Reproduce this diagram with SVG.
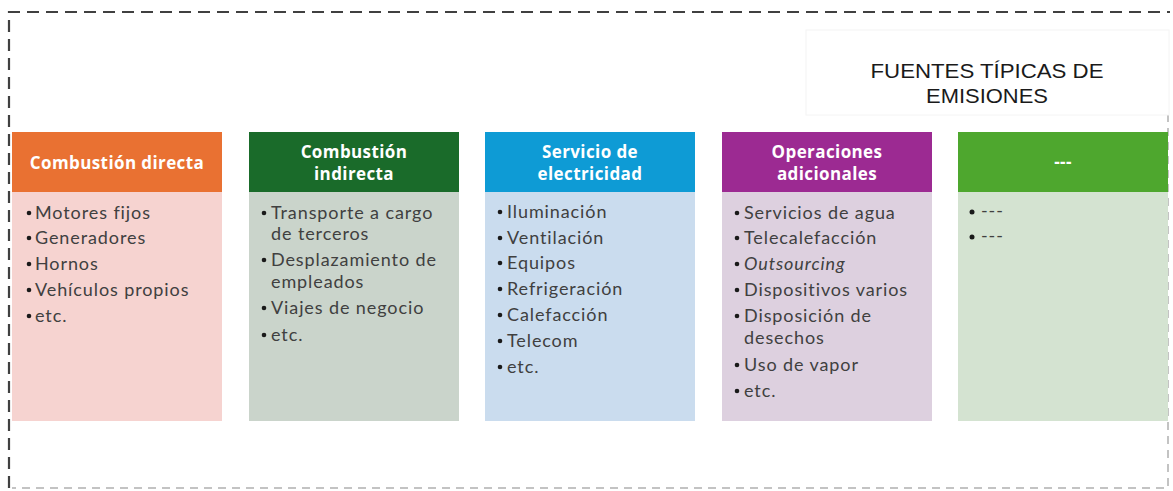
<svg xmlns="http://www.w3.org/2000/svg" width="1173" height="491" viewBox="0 0 1173 491">
<style>
.frame{fill:none;stroke:#404040;stroke-width:2.2;stroke-dasharray:12 7}
.frame2{fill:none;stroke:#b0b0b0;stroke-width:1.5;stroke-dasharray:8 6}
.hd{font-family:"Open Sans","Liberation Sans",sans-serif;font-weight:700;font-size:17px;letter-spacing:0.4px;fill:#ffffff;text-anchor:middle}
.it{font-family:Lato,"Open Sans",sans-serif;font-size:18px;letter-spacing:0.9px;fill:#404040}
.bul{fill:#1a1a1a}
.title{font-family:"Liberation Sans",Arial,sans-serif;font-size:21px;fill:#1a1a1a;text-anchor:middle}
</style>
<rect width="1173" height="491" fill="#ffffff"/>
<g id="frame">
<path class="frame" d="M9,488 V12 H1170"/>
<path class="frame2" d="M1168,30 V488 H12"/>
</g>
<g id="title">
<rect x="806" y="30" width="363" height="85" fill="#ffffff" stroke="#f4f4f4" stroke-width="1"/>
<text class="title" x="987" y="78" textLength="233" lengthAdjust="spacingAndGlyphs">FUENTES TÍPICAS DE</text>
<text class="title" x="987" y="103" textLength="122" lengthAdjust="spacingAndGlyphs">EMISIONES</text>
</g>
<g id="node1">
<rect x="12" y="192" width="210" height="229" fill="#f6d3d0"/>
<rect x="12" y="132" width="210" height="60" fill="#e97132"/>
<text class="hd" x="117" y="169">Combustión directa</text>
<g class="bul"><circle cx="29" cy="213" r="2.3"/><circle cx="29" cy="238" r="2.3"/><circle cx="29" cy="264" r="2.3"/><circle cx="29" cy="290" r="2.3"/><circle cx="29" cy="316" r="2.3"/></g>
<text class="it" x="35" y="219">Motores fijos</text>
<text class="it" x="35" y="244">Generadores</text>
<text class="it" x="35" y="270">Hornos</text>
<text class="it" x="35" y="296">Vehículos propios</text>
<text class="it" x="35" y="322">etc.</text>
</g>
<g id="node2">
<rect x="249" y="192" width="210" height="229" fill="#cad4cb"/>
<rect x="249" y="132" width="210" height="60" fill="#1a6b2a"/>
<text class="hd" x="354" y="158">Combustión</text>
<text class="hd" x="354" y="180">indirecta</text>
<g class="bul"><circle cx="264" cy="213" r="2.3"/><circle cx="264" cy="260" r="2.3"/><circle cx="264" cy="308" r="2.3"/><circle cx="264" cy="335" r="2.3"/></g>
<text class="it" x="271" y="219">Transporte a cargo</text>
<text class="it" x="271" y="240">de terceros</text>
<text class="it" x="271" y="266">Desplazamiento de</text>
<text class="it" x="271" y="288">empleados</text>
<text class="it" x="271" y="314">Viajes de negocio</text>
<text class="it" x="271" y="341">etc.</text>
</g>
<g id="node3">
<rect x="485" y="192" width="210" height="229" fill="#cadcee"/>
<rect x="485" y="132" width="210" height="60" fill="#0e9bd5"/>
<text class="hd" x="590" y="158">Servicio de</text>
<text class="hd" x="590" y="180">electricidad</text>
<g class="bul"><circle cx="500" cy="212" r="2.3"/><circle cx="500" cy="238" r="2.3"/><circle cx="500" cy="263" r="2.3"/><circle cx="500" cy="289" r="2.3"/><circle cx="500" cy="315" r="2.3"/><circle cx="500" cy="341" r="2.3"/><circle cx="500" cy="367" r="2.3"/></g>
<text class="it" x="507" y="218">Iluminación</text>
<text class="it" x="507" y="244">Ventilación</text>
<text class="it" x="507" y="269">Equipos</text>
<text class="it" x="507" y="295">Refrigeración</text>
<text class="it" x="507" y="321">Calefacción</text>
<text class="it" x="507" y="347">Telecom</text>
<text class="it" x="507" y="373">etc.</text>
</g>
<g id="node4">
<rect x="722" y="192" width="210" height="229" fill="#ddd0df"/>
<rect x="722" y="132" width="210" height="60" fill="#9c2a92"/>
<text class="hd" x="827" y="158">Operaciones</text>
<text class="hd" x="827" y="180">adicionales</text>
<g class="bul"><circle cx="737" cy="213" r="2.3"/><circle cx="737" cy="238" r="2.3"/><circle cx="737" cy="264" r="2.3"/><circle cx="737" cy="290" r="2.3"/><circle cx="737" cy="316" r="2.3"/><circle cx="737" cy="365" r="2.3"/><circle cx="737" cy="391" r="2.3"/></g>
<text class="it" x="744" y="219">Servicios de agua</text>
<text class="it" x="744" y="244">Telecalefacción</text>
<text class="it" x="744" y="270" font-style="italic">Outsourcing</text>
<text class="it" x="744" y="296">Dispositivos varios</text>
<text class="it" x="744" y="322">Disposición de</text>
<text class="it" x="744" y="344">desechos</text>
<text class="it" x="744" y="371">Uso de vapor</text>
<text class="it" x="744" y="397">etc.</text>
</g>
<g id="node5">
<rect x="958" y="192" width="210" height="229" fill="#d4e3d1"/>
<rect x="958" y="132" width="210" height="60" fill="#4ea72e"/>
<text class="hd" x="1063" y="168">---</text>
<g class="bul"><circle cx="972" cy="212" r="2.5"/><circle cx="972" cy="237" r="2.5"/></g>
<text class="it" x="981" y="217" font-size="13" letter-spacing="0">---</text>
<text class="it" x="981" y="242" font-size="13" letter-spacing="0">---</text>
</g>
<g id="connectors"></g>
</svg>
